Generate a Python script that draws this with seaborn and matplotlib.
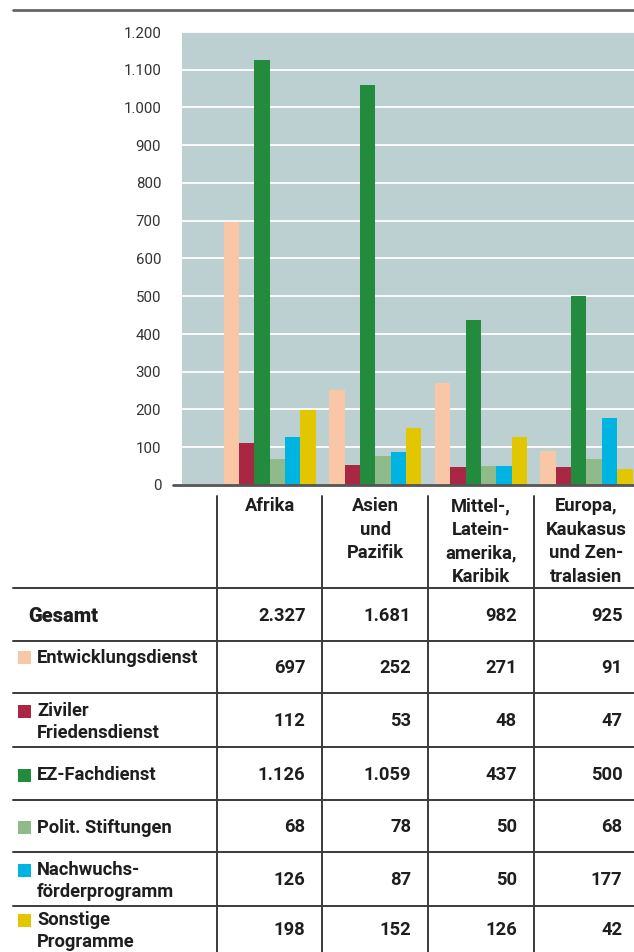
import numpy as np
import pandas as pd
import seaborn as sns
import matplotlib.pyplot as plt
from matplotlib.lines import Line2D
from matplotlib.patches import Rectangle
from matplotlib.ticker import FuncFormatter, MultipleLocator

# ---------------- data ----------------
regions = ["Afrika", "Asien und Pazifik", "Mittel-, Lateinamerika, Karibik",
           "Europa, Kaukasus und Zentralasien"]
region_headers = ["Afrika", "Asien\nund\nPazifik", "Mittel-,\nLatein-\namerika,\nKaribik",
                  "Europa,\nKaukasus\nund Zen-\ntralasien"]
programs = ["Entwicklungsdienst", "Ziviler Friedensdienst", "EZ-Fachdienst",
            "Polit. Stiftungen", "Nachwuchsförderprogramm", "Sonstige Programme"]
program_labels = ["Entwicklungsdienst", "Ziviler\nFriedensdienst", "EZ-Fachdienst",
                  "Polit. Stiftungen", "Nachwuchs-\nförderprogramm", "Sonstige\nProgramme"]
entwicklungsdienst = [697, 252, 271, 91]
ziviler_friedensdienst = [112, 53, 48, 47]
ez_fachdienst = [1126, 1059, 437, 500]
polit_stiftungen = [68, 78, 50, 68]
nachwuchs = [126, 87, 50, 177]
sonstige = [198, 152, 126, 42]
yticks = list(range(0, 1201, 100))

series = [entwicklungsdienst, ziviler_friedensdienst, ez_fachdienst,
          polit_stiftungen, nachwuchs, sonstige]
colors = ["#F9C6A6", "#AA2744", "#238B3D", "#8FBB8B", "#00B4E2", "#E2C600"]

df = pd.DataFrame([(r, p, v) for p, vals in zip(programs, series)
                   for r, v in zip(regions, vals)],
                  columns=["region", "program", "value"])
totals = df.groupby("region", sort=False)["value"].sum().reindex(regions).tolist()


def de_fmt(v):
    return f"{int(v):,}".replace(",", ".")


# ---------------- figure ----------------
W, H = 634, 952
sns.set_theme(style="white")
plt.rcParams["font.family"] = ["Roboto", "DejaVu Sans"]
fig = plt.figure(figsize=(W / 100, H / 100), dpi=100)

ax_l, ax_r, ax_t, ax_b = 182, 634, 32, 485
ax = fig.add_axes([ax_l / W, 1 - ax_b / H, (ax_r - ax_l) / W, (ax_b - ax_t) / H])
ax.set_facecolor("#BCCFD1")

sns.barplot(data=df, x="region", y="value", hue="program", order=regions,
            hue_order=programs, palette=colors, width=0.872, saturation=1,
            dodge=True, legend=False, ax=ax, zorder=3)
for p in ax.patches:
    p.set_linewidth(0)

xmin, xmax = -0.83, 3.45
ax.set_xlim(xmin, xmax)
ax.set_ylim(0, 1200)
ax.set_yticks(yticks)
ax.yaxis.set_major_formatter(FuncFormatter(lambda v, _: de_fmt(v)))
ax.set_xlabel("")
ax.set_ylabel("")
ax.set_xticks([])
ax.grid(axis="y", color="white", linewidth=1.3, zorder=0)
ax.set_axisbelow(True)
for s in ax.spines.values():
    s.set_visible(False)
ax.tick_params(axis="y", length=0, pad=15, labelsize=10.8, labelcolor="#333333")

# ---------------- table overlay ----------------
tab = fig.add_axes([0, 0, 1, 1], zorder=5)
tab.set_facecolor("none")
tab.axis("off")
upp = (xmax - xmin) / (ax_r - ax_l)  # category units per pixel
txmin = xmin - ax_l * upp
txmax = txmin + W * upp
tab.set_xlim(txmin, txmax)
tab.set_ylim(H, 0)


def px(p):
    return txmin + p * upp


line_col = "#3a3a3a"
txt_col = "#1e1e1e"
FS = 13.2
# top rule and zero line
tab.add_line(Line2D([px(13), px(634)], [10, 10], color="#666666", lw=2))
tab.add_line(Line2D([px(173), px(634)], [485, 485], color="#555555", lw=2))

row_lines = [588, 641, 693, 747, 800, 852, 906]
for y in row_lines:
    tab.add_line(Line2D([px(13), px(634)], [y, y], color=line_col, lw=1.4))
for i in range(len(regions)):
    tab.add_line(Line2D([i - 0.5, i - 0.5], [496, H], color=line_col, lw=1.4))

# headers
for i, h in enumerate(region_headers):
    tab.text(i, 497, h, ha="center", va="top", multialignment="center",
             fontsize=FS, fontweight="bold", color=txt_col, linespacing=1.40)

# Gesamt row
tab.text(px(28), 616, "Gesamt", ha="left", va="center", fontsize=14.5,
         fontweight="black", color=txt_col)
for i, t in enumerate(totals):
    tab.text(i + 0.5 - 0.16, 616, de_fmt(t), ha="right", va="center",
             fontsize=FS, fontweight="bold", color=txt_col)

# program rows
row_bounds = list(zip(row_lines[1:], row_lines[2:] + [H]))
for k, (lab, vals, c) in enumerate(zip(program_labels, series, colors)):
    top, bot = row_bounds[k]
    center = (top + bot) / 2
    nlines = lab.count("\n") + 1
    if k == 0:
        first = top + 17
        tab.text(px(37), first, lab, ha="left", va="center", fontsize=FS,
                 fontweight="bold", color=txt_col)
    else:
        tab.text(px(37), center + 2, lab, ha="left", va="center", fontsize=FS,
                 fontweight="bold", color=txt_col, linespacing=1.30)
        first = center + 2 - (nlines - 1) * 10.5
    tab.add_patch(Rectangle((px(18), first - 7), 13 * upp, 13,
                            facecolor=c, edgecolor="none"))
    for i, v in enumerate(vals):
        tab.text(i + 0.5 - 0.16, center + 1, de_fmt(v), ha="right", va="center",
                 fontsize=FS, fontweight="bold", color=txt_col)

fig.savefig("out.png", dpi=100)
